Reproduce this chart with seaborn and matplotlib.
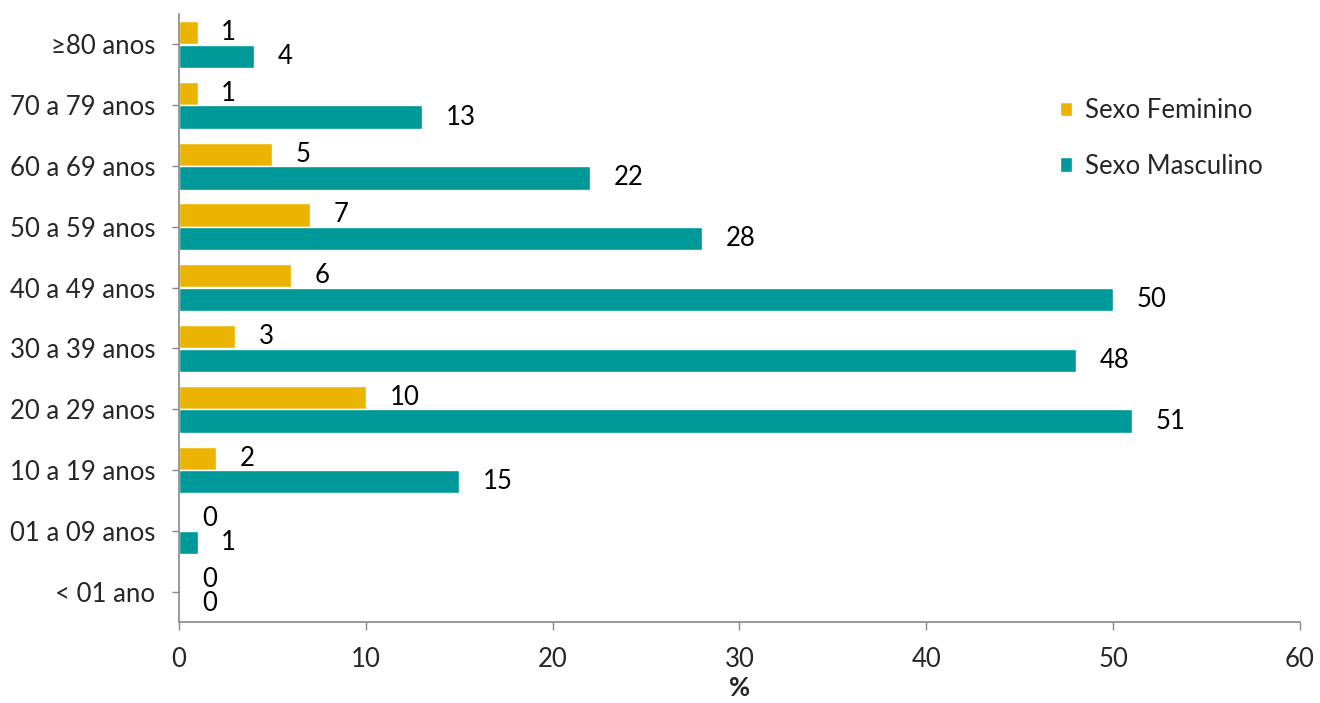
import matplotlib
matplotlib.use("Agg")
import matplotlib.pyplot as plt
import seaborn as sns
import pandas as pd

categories = ["≥80 anos", "70 a 79 anos", "60 a 69 anos", "50 a 59 anos", "40 a 49 anos",
              "30 a 39 anos", "20 a 29 anos", "10 a 19 anos", "01 a 09 anos", "< 01 ano"]
feminino = [1, 1, 5, 7, 6, 3, 10, 2, 0, 0]
masculino = [4, 13, 22, 28, 50, 48, 51, 15, 1, 0]
series = ["Sexo Feminino", "Sexo Masculino"]
colors = ["#EBB400", "#009999"]
x_ticks = [0, 10, 20, 30, 40, 50, 60]

df = pd.DataFrame({
    "cat": categories * 2,
    "val": feminino + masculino,
    "sexo": [series[0]] * len(categories) + [series[1]] * len(categories),
})

sns.set_theme(style="white")
plt.rcParams["font.family"] = ["Lato", "DejaVu Sans"]

fig = plt.figure(figsize=(13.2, 7.03), dpi=100)
ax = fig.add_axes([0.1356, 0.1152, 0.8492, 0.8648])

sns.barplot(data=df, x="val", y="cat", hue="sexo", order=categories, hue_order=series,
            palette=colors, orient="h", width=0.78, gap=0.02, ax=ax, saturation=1,
            errorbar=None)

for cont in ax.containers:
    ax.bar_label(cont, labels=[f"{int(b.get_width())}" for b in cont], padding=17,
                 fontsize=18.5, color="#000000")

ax.set_xlim(0, 60)
ax.set_ylim(len(categories) - 0.5, -0.5)
ax.set_xticks(x_ticks)
ax.set_xticklabels([str(t) for t in x_ticks], fontsize=18.5)
ax.tick_params(axis="y", labelsize=18.5, length=5, width=1, color="#888888", left=True, pad=12)
ax.tick_params(axis="x", length=6, width=1, color="#888888", bottom=True, pad=12)
ax.set_xlabel("%", fontsize=18.5, fontweight="bold", labelpad=3)
ax.set_ylabel("")
for s in ["top", "right"]:
    ax.spines[s].set_visible(False)
for s in ["left", "bottom"]:
    ax.spines[s].set_color("#888888")
    ax.spines[s].set_linewidth(1.2)

leg = ax.legend(loc="upper left", bbox_to_anchor=(0.765, 0.90), frameon=False, fontsize=18.5,
                handlelength=0.5, handleheight=0.5, handletextpad=0.5, labelspacing=1.2)

fig.savefig("out.png", dpi=100)
